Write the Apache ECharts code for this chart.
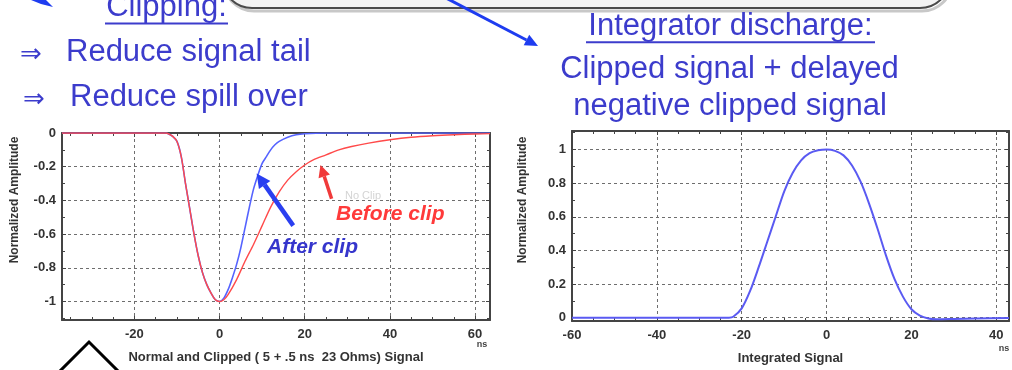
<!DOCTYPE html>
<html>
<head>
<meta charset="utf-8">
<style>
  html, body { margin: 0; padding: 0; background: #fff; }
  #chart { width: 1012px; height: 370px; }
</style>
<script src="https://cdn.jsdelivr.net/npm/echarts@6/dist/echarts.min.js"></script>
</head>
<body>
<div id="chart"></div>
<script>
// Left panel: leading edge is the same for clipped and unclipped pulse (ns, normalized amplitude)
const edgeTime = [-37, -14, -12.5, -12, -11, -10, -9, -8, -7, -6, -5, -4, -3, -2, -1, 0];
const edgeAmp  = [0, 0, 0, -0.005, -0.02, -0.05, -0.14, -0.30, -0.45, -0.60, -0.73, -0.83, -0.90, -0.95, -0.99, -1];

// tail of the unclipped pulse ("Before clip")
const beforeTime = [1, 2, 4, 6, 8, 10, 12, 14, 16, 18, 20, 22, 25, 28, 31, 35, 40, 45, 50, 55, 60, 63.5];
const beforeAmp  = [-0.99, -0.96, -0.87, -0.76, -0.66, -0.55, -0.44, -0.35, -0.28, -0.23, -0.19, -0.16, -0.13, -0.10, -0.08, -0.06, -0.04, -0.025, -0.016, -0.01, -0.006, -0.004];

// tail of the clipped pulse ("After clip")
const afterTime = [1, 2, 3, 4, 5, 6, 7, 8, 9, 10, 11, 12, 13, 14, 16, 18, 20, 25, 63.5];
const afterAmp  = [-0.98, -0.93, -0.86, -0.78, -0.68, -0.56, -0.44, -0.33, -0.25, -0.18, -0.14, -0.10, -0.07, -0.05, -0.025, -0.01, -0.004, 0, 0];

// Right panel: integrated signal
const intTime = [-60, -40, -23, -22, -20, -18, -16, -14, -12, -10, -8, -6, -4, -2, 0, 2, 4, 6, 8, 10, 12, 14, 16, 18, 20, 22, 24, 26, 30, 35, 43];
const intAmp  = [0, 0, 0, 0.005, 0.055, 0.16, 0.30, 0.45, 0.60, 0.75, 0.86, 0.935, 0.978, 0.995, 1, 0.992, 0.965, 0.905, 0.81, 0.68, 0.53, 0.37, 0.23, 0.125, 0.05, 0.012, -0.005, -0.01, -0.008, -0.005, -0.002];

const leftX = [-37, 63.5], leftY = [-1.11, 0];
const rightX = [-60, 43], rightY = [-0.02, 1.11];

const pairs = (xs, ys) => xs.map((x, i) => [x, ys[i]]);

const FONT = '"Liberation Sans", Arial, sans-serif';
const BLUE_TEXT = '#3c3ccc';
const FRAME = '#444';

const labelStyle = { color: '#333', fontSize: 13, fontWeight: 'bold', fontFamily: FONT };

// only label the "nice" ticks, not the extent ends
const onStep = step => v => Math.abs(v / step - Math.round(v / step)) < 1e-6 ? String(+(+v).toFixed(1)) : '';

function xAxes(gridIndex, range, name) {
  const base = {
    type: 'value', gridIndex, min: range[0], max: range[1], splitNumber: 5,
    axisLine: { show: true, onZero: false, lineStyle: { color: FRAME, width: 2 } },
    axisTick: { show: true, inside: true, length: 4, lineStyle: { color: FRAME } },
    minorTick: { show: true, splitNumber: 4, length: 3, lineStyle: { color: FRAME } }
  };
  return [
    Object.assign({}, base, {
      position: 'bottom',
      axisLabel: Object.assign({ margin: 8, formatter: onStep(20) }, labelStyle),
      splitLine: { show: true, lineStyle: { color: '#6e6e6e', type: [3, 3], width: 1 } },
      name, nameLocation: 'middle', nameGap: 31,
      nameTextStyle: { color: '#333', fontSize: 13, fontWeight: 'bold', fontFamily: FONT }
    }),
    Object.assign({}, base, { position: 'top', axisLabel: { show: false }, splitLine: { show: false } })
  ];
}

function yAxes(gridIndex, range) {
  const base = {
    type: 'value', gridIndex, min: range[0], max: range[1], splitNumber: 5,
    axisLine: { show: true, onZero: false, lineStyle: { color: FRAME, width: 2 } },
    axisTick: { show: true, inside: true, length: 4, lineStyle: { color: FRAME } },
    minorTick: { show: true, splitNumber: 2, length: 3, lineStyle: { color: FRAME } }
  };
  return [
    Object.assign({}, base, {
      position: 'left',
      axisLabel: Object.assign({ margin: 6, formatter: onStep(0.2) }, labelStyle),
      splitLine: { show: true, lineStyle: { color: '#6e6e6e', type: [3, 3], width: 1 } }
    }),
    Object.assign({}, base, { position: 'right', axisLabel: { show: false }, splitLine: { show: false } })
  ];
}

const chart = echarts.init(document.getElementById('chart'));

chart.setOption({
  animation: false,
  backgroundColor: '#fff',
  grid: [
    { left: 62, top: 133, width: 428, height: 187 },
    { left: 572, top: 131, width: 450, height: 194 }
  ],
  xAxis: [
    ...xAxes(0, leftX, 'Normal and Clipped ( 5 + .5 ns  23 Ohms) Signal'),
    ...xAxes(1, rightX, 'Integrated Signal')
  ],
  yAxis: [...yAxes(0, leftY), ...yAxes(1, rightY)],
  series: [
    {
      type: 'line', name: 'After clip', xAxisIndex: 0, yAxisIndex: 0,
      data: pairs(edgeTime.concat(afterTime), edgeAmp.concat(afterAmp)),
      smooth: 0.3, showSymbol: false,
      lineStyle: { color: '#5563ff', width: 1.6 }
    },
    {
      type: 'line', name: 'Before clip', xAxisIndex: 0, yAxisIndex: 0,
      data: pairs(edgeTime.concat(beforeTime), edgeAmp.concat(beforeAmp)),
      smooth: 0.3, showSymbol: false,
      lineStyle: { color: '#ff4a4a', width: 1.4 }
    },
    {
      type: 'line', name: 'Integrated', xAxisIndex: 2, yAxisIndex: 2,
      data: pairs(intTime, intAmp),
      smooth: 0.3, showSymbol: false,
      lineStyle: { color: '#5a5af2', width: 2 }
    }
  ]
});

// ---- annotations ----
function arrow(tail, tip, color, width, headLen, headHalf) {
  const dx = tip[0] - tail[0], dy = tip[1] - tail[1];
  const len = Math.hypot(dx, dy);
  const ux = dx / len, uy = dy / len;
  const bx = tip[0] - ux * headLen, by = tip[1] - uy * headLen;
  const nx = -uy, ny = ux;
  return [
    { type: 'line', z: 10, shape: { x1: tail[0], y1: tail[1], x2: bx, y2: by }, style: { stroke: color, lineWidth: width } },
    { type: 'polygon', z: 10, shape: { points: [tip, [bx + nx * headHalf, by + ny * headHalf], [bx - nx * headHalf, by - ny * headHalf]] }, style: { fill: color } }
  ];
}

function text(str, x, y, font, fill, align, extra) {
  return Object.assign({
    type: 'text', z: 10,
    style: { text: str, x, y, font, fill, textAlign: align || 'left', textVerticalAlign: 'middle' }
  }, extra || {});
}

const px = (g, p) => chart.convertToPixel({ gridIndex: g }, p);
const big = '31px ' + FONT;

const graphics = [
  // rounded box at top
  { type: 'rect', z: 1, shape: { x: 224, y: -62, width: 728, height: 73, r: 30 }, style: { fill: 'none', stroke: '#c8c8c8', lineWidth: 3 } },
  { type: 'rect', z: 2, shape: { x: 222, y: -62, width: 728, height: 70, r: 30 }, style: { fill: '#f3f3f3', stroke: '#4a4a4a', lineWidth: 2 } },
  // arrows at top
  ...arrow([446, -2], [538, 46], '#1e3cf0', 3, 13, 6),
  { type: 'polygon', z: 10, shape: { points: [[31, 0], [46, 0], [53, 7], [41, 4]] }, style: { fill: '#1e3cf0' } },
  // chevron bottom left
  { type: 'polyline', z: 10, shape: { points: [[58, 373], [89, 342], [120, 373]] }, style: { stroke: '#000', lineWidth: 3, fill: 'none' } },

  // left heading
  text('Clipping:', 166.5, 7.6, big, BLUE_TEXT, 'center'),
  { type: 'line', z: 10, shape: { x1: 105, y1: 23.5, x2: 228, y2: 23.5 }, style: { stroke: BLUE_TEXT, lineWidth: 2 } },
  text('\u21D2', 20, 55, '26px "DejaVu Sans"', BLUE_TEXT, 'left'),
  text('Reduce signal tail', 66, 52.6, big, BLUE_TEXT, 'left'),
  text('\u21D2', 23, 100, '26px "DejaVu Sans"', BLUE_TEXT, 'left'),
  text('Reduce spill over', 70, 97.6, big, BLUE_TEXT, 'left'),

  // right heading
  text('Integrator discharge:', 730.5, 26.3, big, BLUE_TEXT, 'center'),
  { type: 'line', z: 10, shape: { x1: 586, y1: 42.3, x2: 875, y2: 42.3 }, style: { stroke: BLUE_TEXT, lineWidth: 2 } },
  text('Clipped signal + delayed', 729.5, 69.6, big, BLUE_TEXT, 'center'),
  text('negative clipped signal', 730, 106.3, big, BLUE_TEXT, 'center'),

  // axis names (vertical) and units
  text('Normalized Amplitude', 14.5, 200, 'bold 12px ' + FONT, '#333', 'center', { rotation: Math.PI / 2 }),
  text('Normalized Amplitude', 523, 200, 'bold 12px ' + FONT, '#333', 'center', { rotation: Math.PI / 2 }),
  text('ns', 482, 345, 'bold 9px ' + FONT, '#444', 'center'),
  text('ns', 1004, 349, 'bold 9px ' + FONT, '#444', 'center'),

  // curve labels
  text('No Clip', 345, 196, '11px ' + FONT, '#d4d4d4', 'left'),
  ...arrow(px(0, [26.3, -0.39]), px(0, [23.7, -0.19]), '#f03a3a', 3.5, 12, 6),
  ...arrow(px(0, [17.3, -0.55]), px(0, [8.7, -0.24]), '#2a3ff0', 4.5, 14, 7),
  text('Before clip', 336, 214.3, 'italic bold 21px ' + FONT, '#ff3a3a', 'left'),
  text('After clip', 267, 247.6, 'italic bold 21px ' + FONT, '#3535cc', 'left')
];

// rotated texts: position via element x/y so rotation happens around the anchor
graphics.forEach(g => {
  if (g.rotation) {
    g.x = g.style.x; g.y = g.style.y; g.style.x = 0; g.style.y = 0;
  }
});

chart.setOption({ graphic: graphics });
</script>
</body>
</html>
